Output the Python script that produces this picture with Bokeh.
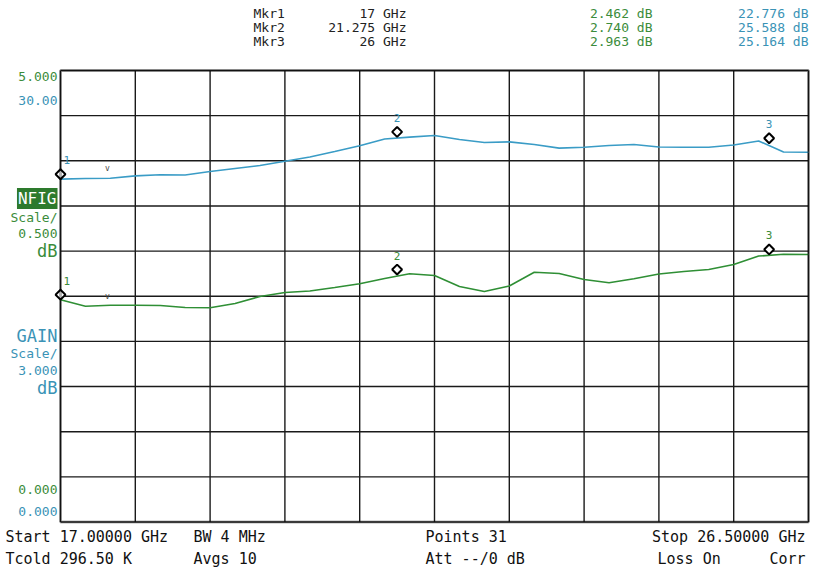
import math
from bokeh.plotting import figure
from bokeh.models import Range1d, Label, BoxAnnotation
from bokeh.embed import file_html
from bokeh.resources import INLINE

# ---------------- data ----------------
FREQ_GHZ = [17.000, 17.317, 17.633, 17.950, 18.267, 18.583, 18.900, 19.217,
            19.533, 19.850, 20.167, 20.483, 20.800, 21.117, 21.433, 21.750,
            22.067, 22.383, 22.700, 23.017, 23.333, 23.650, 23.967, 24.283,
            24.600, 24.917, 25.233, 25.550, 25.867, 26.183, 26.500]
NFIG_DB = [2.461, 2.390, 2.401, 2.401, 2.398, 2.375, 2.372, 2.420, 2.497,
           2.542, 2.558, 2.597, 2.638, 2.697, 2.749, 2.730, 2.608, 2.553,
           2.613, 2.766, 2.752, 2.685, 2.649, 2.693, 2.746, 2.774, 2.796,
           2.852, 2.945, 2.965, 2.962]
GAIN_DB = [22.78, 22.82, 22.84, 23.00, 23.07, 23.06, 23.29, 23.49, 23.69,
           23.97, 24.25, 24.62, 25.00, 25.45, 25.57, 25.68, 25.42, 25.22,
           25.26, 25.08, 24.84, 24.90, 25.02, 25.08, 24.92, 24.90, 24.90,
           25.05, 25.32, 24.58, 24.57]
MKR_NAMES = ["Mkr1", "Mkr2", "Mkr3"]
MKR_FREQ = [17, 21.275, 26]
MKR_NFIG = [2.462, 2.740, 2.963]
MKR_GAIN = [22.776, 25.588, 25.164]
X_TICKS = [17.0, 17.95, 18.9, 19.85, 20.8, 21.75, 22.7, 23.65, 24.6, 25.55, 26.5]
NF_TICKS = [0.0, 0.5, 1.0, 1.5, 2.0, 2.5, 3.0, 3.5, 4.0, 4.5, 5.0]
START, STOP = 17.0, 26.5
NF_TOP, NF_SCALE = 5.0, 0.5
GAIN_TOP, GAIN_SCALE = 30.0, 3.0
STATUS_ROW1 = ["Start 17.00000 GHz", "BW 4 MHz", "Points 31", "Stop 26.50000 GHz"]
STATUS_ROW2 = ["Tcold 296.50 K", "Avgs 10", "Att --/0 dB", "Loss On", "Corr"]

GREEN = "#3b8c3b"
GREEN_LINE = "#2f8f35"
BLUE = "#3a93b6"
BLUE_LINE = "#3a9cc6"
FONT = "DejaVu Sans Mono"

# ---------------- layout (pixels of the 814x572 canvas) ----------------
W, H = 814, 572
FL, FR, FT, FB = 60, 808, 70, 521.5
XPX = (FR - FL) / (STOP - START)      # px per GHz
NPX = (FB - FT) / NF_TOP              # px per dB of noise figure
GPX = (FB - FT) / GAIN_TOP            # px per dB of gain


def X(px):
    return START + (px - FL) / XPX


def Y(py):
    return (FB - py) / NPX


p = figure(width=W, height=H, title=None,
           x_range=Range1d(X(0), X(W)), y_range=Range1d(Y(H), Y(0)),
           x_axis_location=None, y_axis_location=None,
           toolbar_location=None, output_backend="svg", min_border=0)
p.extra_y_ranges = {"gain": Range1d(-(H - FB) / GPX, FB / GPX)}
p.xgrid.visible = False
p.ygrid.visible = False
p.background_fill_color = "white"
p.border_fill_color = "white"
p.outline_line_color = None

# graticule
p.segment(x0=X_TICKS, y0=[0] * len(X_TICKS), x1=X_TICKS,
          y1=[NF_TOP] * len(X_TICKS), line_color="#1a1a1a", line_width=1.4)
p.segment(x0=[START] * len(NF_TICKS), y0=NF_TICKS,
          x1=[STOP] * len(NF_TICKS), y1=NF_TICKS,
          line_color="#1a1a1a", line_width=1.4)
p.add_layout(BoxAnnotation(left=START, right=STOP, bottom=0, top=NF_TOP,
                           fill_alpha=0, line_color="black", line_width=3))

# traces
p.line(FREQ_GHZ, NFIG_DB, line_color=GREEN_LINE, line_width=1.6)
p.line(FREQ_GHZ, GAIN_DB, line_color=BLUE_LINE, line_width=1.6,
       y_range_name="gain")

# markers
p.scatter(MKR_FREQ, [v + 5 / NPX for v in MKR_NFIG], marker="square",
          angle=math.pi / 4, size=7, fill_color="white", line_color="black",
          line_width=2)
p.scatter(MKR_FREQ, [v + 5 / GPX for v in MKR_GAIN], marker="square",
          angle=math.pi / 4, size=7, fill_color="white", line_color="black",
          line_width=2, y_range_name="gain")

for i, (f, nf, g) in enumerate(zip(MKR_FREQ, MKR_NFIG, MKR_GAIN)):
    align = "left" if i == 0 else "center"
    dx = 3 / XPX if i == 0 else 0
    p.add_layout(Label(x=f + dx, y=nf + 19 / NPX, text=str(i + 1),
                       text_color=GREEN, text_font=FONT, text_font_size="11px",
                       text_align=align, text_baseline="middle"))
    p.add_layout(Label(x=f + dx, y=g + 19 / GPX, text=str(i + 1),
                       y_range_name="gain",
                       text_color=BLUE, text_font=FONT, text_font_size="11px",
                       text_align=align, text_baseline="middle"))

# small reference ticks
for py in (168, 296):
    p.add_layout(Label(x=X(107), y=Y(py), text="v", text_color="#444444",
                       text_font=FONT, text_font_size="8px",
                       text_align="center", text_baseline="middle"))


def lab(px, py, text, color, size="13px", align="right", **kw):
    p.add_layout(Label(x=X(px), y=Y(py), text=text, text_color=color,
                       text_font=FONT, text_font_size=size,
                       text_align=align, text_baseline="middle", **kw))


# marker readout
for row, (n, f, nf, g) in enumerate(zip(MKR_NAMES, MKR_FREQ, MKR_NFIG, MKR_GAIN)):
    py = 13 + 14 * row
    lab(253, py, n, "#222222", align="left")
    lab(406, py, f"{f:g} GHz", "#222222")
    lab(652, py, f"{nf:.3f} dB", GREEN)
    lab(808, py, f"{g:.3f} dB", BLUE)

# left scale annotations
lab(57, 76, f"{NF_TOP:.3f}", GREEN)
lab(57, 100, f"{GAIN_TOP:.2f}", BLUE)
lab(57, 198, "NFIG", "white", size="16px", background_fill_color="#2d7a2d",
    padding=1)
lab(57, 217, "Scale/", GREEN)
lab(57, 233, f"{NF_SCALE:.3f}", GREEN)
lab(57, 250, "dB", GREEN, size="17px")
lab(57, 335, "GAIN", BLUE, size="17px")
lab(57, 353, "Scale/", BLUE)
lab(57, 370, f"{GAIN_SCALE:.3f}", BLUE)
lab(57, 387, "dB", BLUE, size="17px")
lab(57, 489, f"{0:.3f}", GREEN)
lab(57, 511, f"{0:.3f}", BLUE)

# status lines
lab(5, 536, STATUS_ROW1[0], "#111111", size="15px", align="left")
lab(193, 536, STATUS_ROW1[1], "#111111", size="15px", align="left")
lab(425, 536, STATUS_ROW1[2], "#111111", size="15px", align="left")
lab(805, 536, STATUS_ROW1[3], "#111111", size="15px")
lab(5, 558, STATUS_ROW2[0], "#111111", size="15px", align="left")
lab(193, 558, STATUS_ROW2[1], "#111111", size="15px", align="left")
lab(425, 558, STATUS_ROW2[2], "#111111", size="15px", align="left")
lab(657, 558, STATUS_ROW2[3], "#111111", size="15px", align="left")
lab(805, 558, STATUS_ROW2[4], "#111111", size="15px")

open("out.html", "w").write(file_html(p, INLINE))
